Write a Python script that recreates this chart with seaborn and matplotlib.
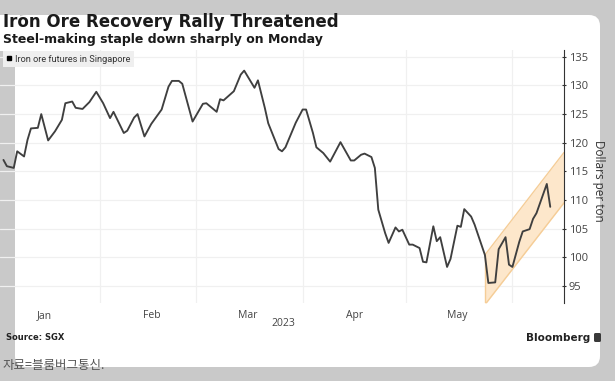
import pandas as pd
import matplotlib
matplotlib.use("Agg")
import matplotlib.pyplot as plt
import matplotlib.dates as mdates
from matplotlib.patches import FancyBboxPatch, Rectangle
from matplotlib.lines import Line2D
import seaborn as sns

# ---- data ----
price_dates = [
    "2023-01-04", "2023-01-05", "2023-01-07", "2023-01-08", "2023-01-10", "2023-01-11",
    "2023-01-12", "2023-01-14", "2023-01-15", "2023-01-17", "2023-01-19", "2023-01-21",
    "2023-01-22", "2023-01-24", "2023-01-25", "2023-01-27", "2023-01-28", "2023-01-29",
    "2023-01-31", "2023-02-02", "2023-02-04", "2023-02-05", "2023-02-08", "2023-02-09",
    "2023-02-11", "2023-02-12", "2023-02-14", "2023-02-16", "2023-02-19", "2023-02-21",
    "2023-02-22", "2023-02-24", "2023-02-25", "2023-02-28", "2023-03-03", "2023-03-04",
    "2023-03-07", "2023-03-08", "2023-03-09", "2023-03-12", "2023-03-14", "2023-03-15",
    "2023-03-18", "2023-03-19", "2023-03-21", "2023-03-22", "2023-03-25", "2023-03-26",
    "2023-03-27", "2023-03-30", "2023-04-01", "2023-04-02", "2023-04-04", "2023-04-05",
    "2023-04-07", "2023-04-09", "2023-04-12", "2023-04-15", "2023-04-16", "2023-04-18",
    "2023-04-19", "2023-04-21", "2023-04-22", "2023-04-23", "2023-04-25", "2023-04-26",
    "2023-04-28", "2023-04-29", "2023-04-30", "2023-05-02", "2023-05-03", "2023-05-05",
    "2023-05-06", "2023-05-07", "2023-05-09", "2023-05-10", "2023-05-11", "2023-05-13",
    "2023-05-14", "2023-05-16", "2023-05-17", "2023-05-18", "2023-05-20", "2023-05-21",
    "2023-05-24", "2023-05-25", "2023-05-27", "2023-05-28", "2023-05-30", "2023-05-31",
    "2023-06-01", "2023-06-03", "2023-06-04", "2023-06-06", "2023-06-07", "2023-06-08",
    "2023-06-11", "2023-06-12",
]
price_values = [
    117.0, 115.9, 115.6, 118.5, 117.6, 120.5,
    122.5, 122.6, 125.0, 120.4, 122.0, 124.0,
    126.9, 127.2, 126.1, 125.9, 126.5, 127.1,
    128.9, 126.9, 124.3, 125.4, 121.7, 122.1,
    124.4, 125.0, 121.1, 123.3, 125.8, 129.8,
    130.8, 130.8, 130.3, 123.7, 126.8, 126.9,
    125.4, 127.6, 127.4, 129.0, 131.9, 132.6,
    129.6, 130.9, 126.1, 123.4, 118.9, 118.5,
    119.2, 123.5, 125.8, 125.8, 121.7, 119.2,
    118.2, 116.7, 120.1, 116.9, 116.9, 117.9,
    118.1, 117.5, 115.6, 108.3, 104.2, 102.5,
    105.2, 104.5, 104.8, 102.2, 102.2, 101.6,
    99.2, 99.1, 105.4, 102.8, 103.5, 98.3,
    99.7, 105.5, 105.3, 108.4, 107.1, 105.7,
    100.4, 95.5, 95.6, 101.4, 103.5, 98.7,
    98.3, 102.7, 104.5, 104.9, 106.7, 107.7,
    112.8, 108.8,
]

# upward channel drawn over the recent rebound
band_dates = ["2023-05-24", "2023-06-16"]
band_low = [91.7, 109.5]
band_high = [100.4, 118.3]

y_ticks = [95, 100, 105, 110, 115, 120, 125, 130, 135]
label_months = [1, 2, 3, 4, 5]
x_range = ["2023-01-03", "2023-06-16"]
y_range = [92.0, 136.2]

series_label = "Iron ore futures in Singapore"
title = "Iron Ore Recovery Rally Threatened"
subtitle = "Steel-making staple down sharply on Monday"

# ---- figure ----
sns.set_style("white")
plt.rcParams["font.family"] = ["DejaVu Sans"]

W, H = 615, 381
fig = plt.figure(figsize=(W / 100, H / 100), dpi=100, facecolor="#c9c9c9")

# background card, pixel coordinates
bg = fig.add_axes([0, 0, 1, 1], zorder=0)
bg.set_xlim(0, W)
bg.set_ylim(H, 0)
bg.axis("off")
bg.add_patch(FancyBboxPatch((15, 15), 585, 352, boxstyle="round,pad=0,rounding_size=11",
                            fc="white", ec="none"))
bg.add_patch(Rectangle((0, 15), 20, 36, fc="white", ec="none"))
bg.add_patch(FancyBboxPatch((594, 333), 7, 9, boxstyle="round,pad=0,rounding_size=1.5",
                            fc="#3a3a3a", ec="none"))

ax = fig.add_axes([0, 1 - 303 / H, 564 / W, 253 / H], zorder=1)
ax.patch.set_alpha(0)

df = pd.DataFrame({"date": pd.to_datetime(price_dates), "price": price_values})
bd = pd.to_datetime(band_dates)

ax.fill_between(bd, band_low, band_high, color="#fde7cb", lw=0, zorder=1)
ax.plot(bd, band_low, color="#f5cd97", lw=1, zorder=1.5)
ax.plot(bd, band_high, color="#f5cd97", lw=1, zorder=1.5)
ax.plot([bd[0], bd[0]], [band_low[0], band_high[0]], color="#f5cd97", lw=1, zorder=1.5)

sns.lineplot(data=df, x="date", y="price", ax=ax, color="#3f3f3f", lw=1.35, zorder=3)

ax.set_xlim(pd.to_datetime(x_range))
ax.set_ylim(y_range)

# y axis on the right
ax.yaxis.tick_right()
ax.set_yticks(y_ticks)
ax.set_ylabel("")
ax.tick_params(axis="y", direction="inout", length=3, width=0.8, color="#333333",
               labelsize=8, labelcolor="#444444", pad=2)
for lab in ax.get_yticklabels():
    lab.set_family("Open Sans")

# months: gridlines at month starts, labels mid-month
ax.xaxis.set_major_locator(mdates.MonthLocator())
ax.xaxis.set_major_formatter(plt.NullFormatter())
ax.xaxis.set_minor_locator(mdates.MonthLocator(bymonth=label_months, bymonthday=16))
ax.xaxis.set_minor_formatter(mdates.DateFormatter("%b"))
ax.tick_params(axis="x", which="major", length=0)
ax.tick_params(axis="x", which="minor", length=0, labelsize=7.5, labelcolor="#444444", pad=5)
for lab in ax.get_xticklabels(minor=True):
    lab.set_family("Open Sans")

ax.grid(True, which="major", color="#f0f0f0", lw=0.9)
ax.set_axisbelow(True)

for side in ["top", "left", "bottom"]:
    ax.spines[side].set_visible(False)
ax.spines["right"].set_color("#333333")
ax.spines["right"].set_linewidth(0.8)

ax.set_xlabel("2023", fontsize=7.5, color="#444444", family="Open Sans")
ax.xaxis.set_label_coords(283 / 564, -(323 - 303) / 253)
ax.xaxis.label.set_va("center")

handle = Line2D([], [], marker="s", ls="", color="black", markersize=3.5)
fig.legend(handles=[handle], labels=[series_label], loc="upper left",
           bbox_to_anchor=(3 / W, 1 - 51 / H), bbox_transform=fig.transFigure,
           frameon=True, facecolor="#efefef", edgecolor="none", fancybox=False,
           framealpha=1, prop={"family": "Roboto", "size": 6.6}, labelcolor="#333333",
           handlelength=0.6, handletextpad=0.3, borderpad=0.4, borderaxespad=0)

# text
fig.text(3 / W, 1 - 27 / H, title, fontsize=12, fontweight="bold", color="#1a1a1a",
         va="baseline")
fig.text(3 / W, 1 - 43 / H, subtitle, fontsize=9, fontweight="bold", color="#1a1a1a",
         va="baseline")
fig.text(598 / W, 1 - 181 / H, "Dollars per ton", rotation=270, ha="center", va="center",
         fontsize=8.5, color="#333333", family="Open Sans")
fig.text(6 / W, 1 - 338 / H, "Source: SGX", fontsize=6, fontweight="bold",
         color="#222222", va="center")
fig.text(590 / W, 1 - 338 / H, "Bloomberg", fontsize=7.5, fontweight="bold",
         color="#222222", ha="right", va="center")
fig.text(3 / W, 1 - 366 / H, "자료=블룸버그통신.", fontsize=9, color="#555555",
         va="center", family=["Noto Sans CJK KR", "DejaVu Sans"])

fig.savefig("out.png", dpi=100, facecolor=fig.get_facecolor())
